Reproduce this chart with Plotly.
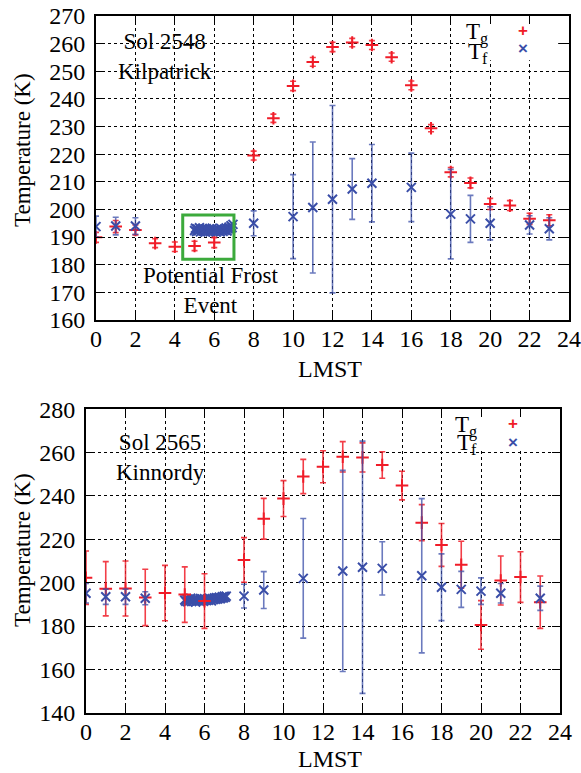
import plotly.graph_objects as go

# ---------------- Sol 2548 (Kilpatrick) ----------------
tg1_hours = [0, 1, 2, 3, 4, 5, 6, 8, 9, 10, 11, 12, 13, 14, 15, 16, 17, 18, 19, 20, 21, 22, 23]
tg1_vals = [189.9, 193.8, 192.6, 187.8, 186.5, 186.8, 188.0, 219.5, 233.0, 244.7, 253.4, 258.8,
            260.4, 259.5, 255.1, 244.9, 229.4, 213.5, 209.6, 202.0, 201.4, 196.6, 196.1]
tg1_err = [1.8, 2.2, 1.8, 1.6, 1.7, 1.7, 1.8, 1.6, 1.5, 1.7, 1.6, 1.7,
           1.5, 1.6, 1.5, 1.6, 1.3, 1.7, 1.8, 2.0, 1.8, 2.0, 2.0]

tf1_hours = [0, 1, 2, 8, 10, 11, 12, 13, 14, 16, 18, 19, 20, 22, 23]
tf1_vals = [193.8, 194.0, 194.0, 195.0, 197.4, 200.7, 203.7, 207.4, 209.5, 208.0, 198.3, 196.6, 195.0, 194.4, 193.0]
tf1_err = [3.8, 3.2, 3.0, 4.5, 15.2, 23.7, 33.9, 11.0, 14.0, 12.4, 16.2, 8.5, 6.0, 3.3, 4.0]

frost1_hours = [5.00, 5.05, 5.10, 5.15, 5.20, 5.25, 5.30, 5.35, 5.40, 5.45,
                5.50, 5.55, 5.60, 5.65, 5.70, 5.75, 5.80, 5.85, 5.90, 5.95,
                6.00, 6.05, 6.10, 6.15, 6.20, 6.25, 6.30, 6.35, 6.40, 6.45,
                6.50, 6.55, 6.60, 6.65, 6.70, 6.75, 6.80, 6.85, 6.90, 6.95]
frost1_vals = [192.4, 193.2, 192.0, 192.9, 192.3, 193.4, 191.9, 192.7, 193.1, 192.2,
               192.8, 191.8, 193.0, 192.4, 192.1, 192.9, 191.9, 192.6, 193.2, 192.0,
               192.7, 192.3, 191.8, 192.9, 192.2, 192.6, 191.9, 193.0, 192.4, 192.1,
               192.8, 192.5, 193.3, 192.2, 193.0, 193.6, 192.7, 194.1, 193.4, 194.6]

# ---------------- Sol 2565 (Kinnordy) ----------------
tg2_hours = [0, 1, 2, 3, 4, 5, 6, 8, 9, 10, 11, 12, 13, 14, 15, 16, 17, 18, 19, 20, 21, 22, 23]
tg2_vals = [202.3, 197.2, 197.3, 193.2, 195.2, 194.5, 191.5, 210.5, 229.5, 238.8, 249.0, 253.5,
            258.1, 257.8, 254.3, 244.8, 227.7, 217.4, 208.3, 180.5, 201.0, 202.6, 191.0]
tg2_err = [12.3, 12.5, 12.7, 13.0, 12.8, 12.8, 12.6, 10.3, 9.4, 8.3, 7.9, 7.4,
           7.0, 6.7, 6.1, 6.6, 8.3, 9.9, 10.8, 11.2, 11.3, 11.7, 12.1]

tf2_hours = [0, 1, 2, 3, 8, 9, 11, 13, 14, 15, 17, 18, 19, 20, 21, 23]
tf2_vals = [195.1, 193.5, 193.5, 192.8, 193.8, 196.6, 202.0, 205.4, 207.1, 206.6, 203.2, 197.9, 196.9, 196.1, 195.1, 192.8]
tf2_err = [4.5, 3.5, 3.5, 3.0, 5.5, 8.5, 27.6, 46.4, 58.2, 12.3, 35.6, 15.4, 8.3, 6.1, 4.5, 5.6]

frost2_hours = [5.00, 5.05, 5.10, 5.15, 5.20, 5.25, 5.30, 5.35, 5.40, 5.45,
                5.50, 5.55, 5.60, 5.65, 5.70, 5.75, 5.80, 5.85, 5.90, 5.95,
                6.00, 6.05, 6.10, 6.15, 6.20, 6.25, 6.30, 6.35, 6.40, 6.45,
                6.50, 6.55, 6.60, 6.65, 6.70, 6.75, 6.80, 6.85, 6.90, 6.95,
                7.00, 7.05, 7.10]
frost2_vals = [192.0, 191.4, 192.6, 191.2, 192.2, 191.6, 192.8, 191.3, 192.0, 191.7,
               192.5, 191.1, 192.3, 191.8, 192.1, 191.5, 192.7, 191.9, 192.2, 191.4,
               192.6, 192.0, 191.7, 192.4, 191.9, 192.8, 192.1, 191.6, 192.5, 192.2,
               192.9, 192.3, 193.1, 192.4, 192.8, 193.3, 192.6, 193.0, 193.5, 192.9,
               193.7, 193.2, 193.8]

x_ticks = [0, 2, 4, 6, 8, 10, 12, 14, 16, 18, 20, 22, 24]

RED = "rgb(240,28,40)"
RED_ERR = "rgba(240,28,40,0.85)"
BLUE = "rgb(58,78,168)"
BLUE_ERR = "rgba(58,78,168,0.75)"
FONT = "Liberation Serif"

W, H = 581, 773


def px_x(p):
    return p / W


def px_y(p):
    return 1 - p / H


fig = go.Figure()


def add_panel(fig, xa, ya, hg, vg, eg, hf, vf, ef, hc, vc):
    fig.add_trace(go.Scatter(
        x=hc, y=vc, mode="markers", xaxis=xa, yaxis=ya, name="T<sub>f</sub> (frost event)",
        marker=dict(symbol="x-thin", size=9, color=BLUE, line=dict(color=BLUE, width=2))))
    fig.add_trace(go.Scatter(
        x=hg, y=vg, mode="markers", xaxis=xa, yaxis=ya, name="T<sub>g</sub>",
        marker=dict(symbol="cross-thin", size=9, color=RED, line=dict(color=RED, width=2)),
        error_y=dict(type="data", array=eg, color=RED_ERR, thickness=1.6, width=3)))
    fig.add_trace(go.Scatter(
        x=hf, y=vf, mode="markers", xaxis=xa, yaxis=ya, name="T<sub>f</sub>",
        marker=dict(symbol="x-thin", size=9, color=BLUE, line=dict(color=BLUE, width=2)),
        error_y=dict(type="data", array=ef, color=BLUE_ERR, thickness=1.6, width=3)))


add_panel(fig, "x", "y", tg1_hours, tg1_vals, tg1_err, tf1_hours, tf1_vals, tf1_err,
          frost1_hours, frost1_vals)
add_panel(fig, "x2", "y2", tg2_hours, tg2_vals, tg2_err, tf2_hours, tf2_vals, tf2_err,
          frost2_hours, frost2_vals)

axis_common = dict(
    showline=True, linecolor="black", linewidth=2, mirror="ticks",
    ticks="inside", ticklen=8, tickwidth=1.3, tickcolor="black",
    showgrid=True, gridcolor="black", griddash="dot", gridwidth=1,
    zeroline=False, automargin=False,
    tickfont=dict(family=FONT, size=24, color="black"),
)

fig.update_layout(
    width=W, height=H,
    margin=dict(l=0, r=0, t=0, b=0, autoexpand=False),
    paper_bgcolor="white", plot_bgcolor="white",
    font=dict(family=FONT, size=23, color="black"),
    showlegend=False,
    xaxis=dict(axis_common, domain=[px_x(96), px_x(569)], range=[0, 24], tickvals=x_ticks,
               anchor="y", ticklabelstandoff=-4),
    yaxis=dict(axis_common, domain=[px_y(320), px_y(16)], range=[160, 270], dtick=10, tick0=160,
               anchor="x", ticklabelstandoff=4),
    xaxis2=dict(axis_common, domain=[px_x(86), px_x(560)], range=[0, 24], tickvals=x_ticks,
                anchor="y2", ticklabelstandoff=-4),
    yaxis2=dict(axis_common, domain=[px_y(712.7), px_y(409.3)], range=[140, 280], dtick=20, tick0=140,
                anchor="x2", ticklabelstandoff=4),
)

# axis titles (placed as in the original figure)
title_font = dict(family=FONT, size=23, color="black")
for ty, lx in [(150, 22), (550, 22)]:
    fig.add_annotation(x=px_x(lx), y=px_y(ty), xref="paper", yref="paper", text="Temperature (K)",
                       textangle=-90, showarrow=False, font=title_font,
                       xanchor="center", yanchor="middle")
for ty in [369, 759]:
    fig.add_annotation(x=px_x(330), y=px_y(ty), xref="paper", yref="paper", text="LMST",
                       showarrow=False, font=dict(family=FONT, size=24, color="black"),
                       xanchor="center", yanchor="middle", borderpad=0)

# white legend background boxes (hide gridlines behind legend)
fig.add_shape(type="rect", xref="x", yref="y", x0=18.9, x1=23.45, y0=254.0, y1=269.5,
              fillcolor="white", line=dict(width=0), layer="between")
fig.add_shape(type="rect", xref="x2", yref="y2", x0=18.9, x1=23.6, y0=262.0, y1=279.5,
              fillcolor="white", line=dict(width=0), layer="between")

# frost event box
fig.add_shape(type="rect", xref="x", yref="y", x0=4.4, x1=7.0, y0=182.0, y1=198.0,
              fillcolor="rgba(0,0,0,0)", line=dict(color="rgb(60,170,60)", width=3), layer="above")

ann_font = dict(family=FONT, size=23, color="black")
fig.add_annotation(x=3.5, y=255.3, xref="x", yref="y", text="Sol 2548<br>Kilpatrick",
                   showarrow=False, font=ann_font)
fig.add_annotation(x=5.8, y=170.7, xref="x", yref="y", text="Potential Frost<br>Event",
                   showarrow=False, font=ann_font)
fig.add_annotation(x=3.75, y=257.6, xref="x2", yref="y2", text="Sol 2565<br>Kinnordy",
                   showarrow=False, font=ann_font)

# legend (labels to the left, symbols to the right, as in the original)
leg_font = dict(family=FONT, size=23, color="black")
sym_g = dict(family="Liberation Sans", size=17, color=RED)
sym_f = dict(family="Liberation Sans", size=17, color=BLUE)
legend_items = [
    ("x", "y", 19.92, 263.7, 256.7, 21.67, 264.8, 258.4),
    ("x2", "y2", 19.86, 272.1, 263.8, 21.64, 273.6, 264.8),
]
for xr, yr, lx, ly_g, ly_f, sx, sy_g, sy_f in legend_items:
    fig.add_annotation(x=lx, y=ly_g, xref=xr, yref=yr, text="T<sub>g</sub>", xanchor="right",
                       showarrow=False, font=leg_font, borderpad=0)
    fig.add_annotation(x=lx, y=ly_f, xref=xr, yref=yr, text="T<sub>f</sub>", xanchor="right",
                       showarrow=False, font=leg_font, borderpad=0)
    fig.add_annotation(x=sx, y=sy_g, xref=xr, yref=yr, text="<b>+</b>",
                       showarrow=False, font=sym_g)
    fig.add_annotation(x=sx, y=sy_f, xref=xr, yref=yr, text="<b>×</b>",
                       showarrow=False, font=sym_f)

fig.write_html("out.html", config={"displayModeBar": False},
               post_script="document.body.style.margin='0px';document.body.style.overflow='hidden';")
